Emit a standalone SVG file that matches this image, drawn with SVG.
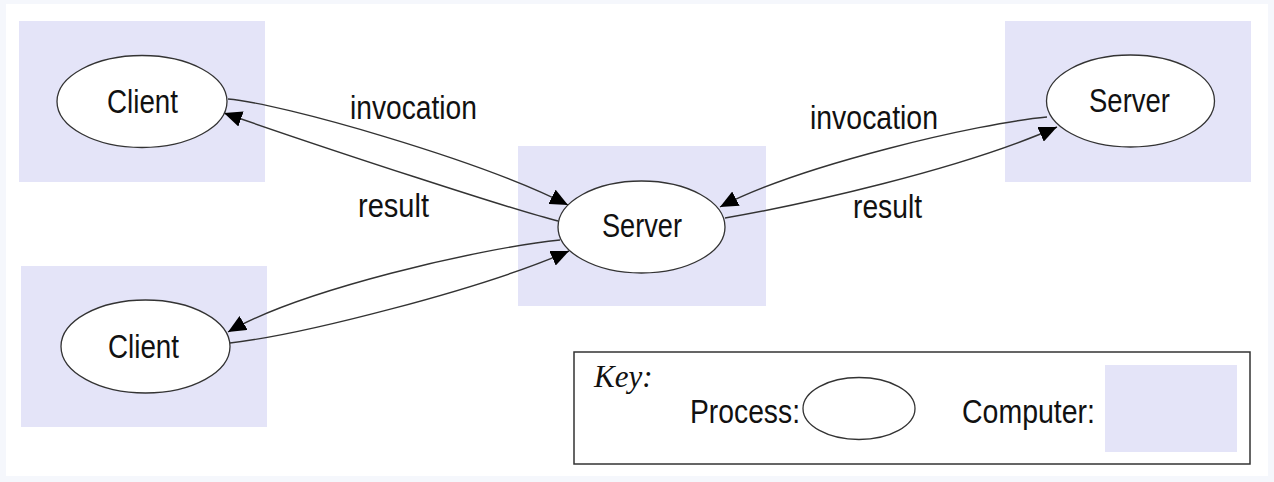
<svg xmlns="http://www.w3.org/2000/svg" width="1274" height="482" viewBox="0 0 1274 482">
<style>
.bg{fill:#f5f7fc}
.frame{fill:#ffffff}
.comp{fill:#e4e4f8}
.proc{fill:#ffffff;stroke:#333333;stroke-width:1.3}
.lbl{font-family:"Liberation Sans",Arial,sans-serif;font-size:33px;fill:#111111}
.conn{fill:none;stroke:#333333;stroke-width:1.4}
.key{fill:#ffffff;stroke:#333333;stroke-width:1.5}
.keyt{font-family:"Liberation Serif","Times New Roman",serif;font-style:italic;font-size:31px;fill:#111111}
</style>
<defs>
<marker id="ah" markerUnits="userSpaceOnUse" markerWidth="18" markerHeight="16" refX="18" refY="8" orient="auto">
<path d="M0,0 L18,8 L0,16 Z" fill="#000000"/>
</marker>
</defs>
<rect class="bg" x="0" y="0" width="1274" height="482"/>
<rect class="frame" x="6" y="4" width="1262" height="472"/>

<g id="computer-client1"><rect class="comp" x="19" y="21" width="246" height="161"/></g>
<g id="computer-client2"><rect class="comp" x="21" y="266" width="246" height="161"/></g>
<g id="computer-server"><rect class="comp" x="518" y="146" width="248" height="160"/></g>
<g id="computer-server2"><rect class="comp" x="1005" y="21" width="246" height="161"/></g>

<g id="connectors">
<path class="conn" d="M228,99 C280,103 480,160 568,205" marker-end="url(#ah)"/>
<path class="conn" d="M558,221 C520,212 330,150 224,113" marker-end="url(#ah)"/>
<path class="conn" d="M560,240 C480,248 300,290 228,332" marker-end="url(#ah)"/>
<path class="conn" d="M230,343 C300,335 480,290 569,251" marker-end="url(#ah)"/>
<path class="conn" d="M1047,117 C980,123 800,165 720,207" marker-end="url(#ah)"/>
<path class="conn" d="M725,218 C800,205 960,170 1057,127" marker-end="url(#ah)"/>
<text class="lbl" x="350" y="119" textLength="127" lengthAdjust="spacingAndGlyphs">invocation</text>
<text class="lbl" x="358" y="217" textLength="71" lengthAdjust="spacingAndGlyphs">result</text>
<text class="lbl" x="810" y="129" textLength="128" lengthAdjust="spacingAndGlyphs">invocation</text>
<text class="lbl" x="853" y="218" textLength="69" lengthAdjust="spacingAndGlyphs">result</text>
</g>

<g id="client1">
<ellipse class="proc" cx="142" cy="101.5" rx="85" ry="46"/>
<text class="lbl" x="107" y="113" textLength="71" lengthAdjust="spacingAndGlyphs">Client</text>
</g>
<g id="client2">
<ellipse class="proc" cx="145.5" cy="346.5" rx="84.5" ry="46.5"/>
<text class="lbl" x="108" y="358" textLength="71" lengthAdjust="spacingAndGlyphs">Client</text>
</g>
<g id="server">
<ellipse class="proc" cx="641.5" cy="227" rx="83.5" ry="46"/>
<text class="lbl" x="602" y="237" textLength="80" lengthAdjust="spacingAndGlyphs">Server</text>
</g>
<g id="server2">
<ellipse class="proc" cx="1130.5" cy="101" rx="84" ry="46"/>
<text class="lbl" x="1089" y="112" textLength="81" lengthAdjust="spacingAndGlyphs">Server</text>
</g>

<g id="key">
<rect class="key" x="574" y="352" width="676" height="112"/>
<text class="keyt" x="594" y="387">Key:</text>
<text class="lbl" x="690" y="423" textLength="110" lengthAdjust="spacingAndGlyphs">Process:</text>
<ellipse class="proc" cx="859" cy="408.5" rx="56" ry="31"/>
<text class="lbl" x="962" y="423" textLength="133" lengthAdjust="spacingAndGlyphs">Computer:</text>
<rect class="comp" x="1105" y="365" width="132" height="87"/>
</g>
</svg>
